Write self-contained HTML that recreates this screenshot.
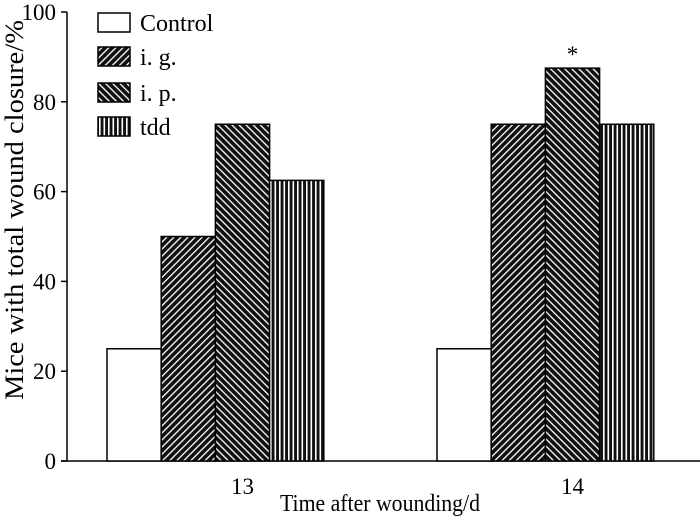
<!DOCTYPE html>
<html><head><meta charset="utf-8"><style>
html,body{margin:0;padding:0;background:#fff;}
svg{display:block;font-family:"Liberation Serif",serif;}
</style></head><body>
<svg id="chart" width="700" height="517" viewBox="0 0 700 517">
<defs>
<pattern id="pig" patternUnits="userSpaceOnUse" width="5" height="5" patternTransform="rotate(45)">
<rect width="5" height="5" fill="#111"/><rect x="0" y="0" width="1.3" height="5" fill="#fff"/></pattern>
<pattern id="pip" patternUnits="userSpaceOnUse" width="5" height="5" patternTransform="rotate(-45)">
<rect width="5" height="5" fill="#111"/><rect x="0" y="0" width="1.3" height="5" fill="#fff"/></pattern>
<pattern id="ptdd" patternUnits="userSpaceOnUse" width="4.5" height="5">
<rect width="4.5" height="5" fill="#111"/><rect x="0" y="0" width="1.6" height="5" fill="#fff"/></pattern>
</defs>
<g id="plot"></g>
</svg>
<script>
const categories = ["13", "14"];
const seriesNames = ["Control", "i. g.", "i. p.", "tdd"];
const control = [25, 25];
const ig = [50, 75];
const ip = [75, 87.5];
const tdd = [62.5, 75];
const yTicks = [0, 20, 40, 60, 80, 100];
const stars = ["", "*"];

const NS = "http://www.w3.org/2000/svg";
const g = document.getElementById("plot");
const y0 = 461, y100 = 12;
function yScale(v){ return y0 - (y0 - y100) * v / 100; }
const groupStart = [107, 437];
const barW = 54.2;
function bx(ci, si){ return groupStart[ci] + si * barW; }
function mk(tag, attrs, parent){ const e = document.createElementNS(NS, tag); for (const k in attrs) e.setAttribute(k, attrs[k]); (parent||g).appendChild(e); return e; }
const fills = ["#fff", "url(#pig)", "url(#pip)", "url(#ptdd)"];
const series = [control, ig, ip, tdd];
const keys = ["control", "ig", "ip", "tdd"];

let e = mk("line", {x1:67, y1:y100, x2:67, y2:y0, stroke:"#000", "stroke-width":1.5});


e = mk("line", {x1:61, y1:y0, x2:700, y2:y0, stroke:"#000", "stroke-width":1.5});


yTicks.forEach(t => {
  const y = yScale(t);
  let l = mk("line", {x1:61, y1:y, x2:67, y2:y, stroke:"#000", "stroke-width":1.5});
  
  
  let tx = mk("text", {x:56, y:y+8, "text-anchor":"end", "font-size":23});
  tx.textContent = t;
  
  
});
categories.forEach((c, ci) => {
  series.forEach((s, si) => {
    const y = yScale(s[ci]);
    const r = mk("rect", {x:bx(ci,si), y:y, width:barW, height:y0-y, fill:fills[si], stroke:"#000", "stroke-width":1.5});
    
    
  });
  const cx = groupStart[ci] + barW * 2.5;
  const t = mk("text", {x:cx, y:494, "text-anchor":"middle", "font-size":23});
  t.textContent = c;
  
  
  if (stars[ci]) {
    const st = mk("text", {x:bx(ci,2)+barW/2, y:yScale(ip[ci])-6, "text-anchor":"middle", "font-size":23});
    st.textContent = stars[ci];
    
    
  }
});
const legY = [13, 47, 83, 117];
seriesNames.forEach((n, i) => {
  const r = mk("rect", {x:98, y:legY[i], width:32, height:19, fill:fills[i], stroke:"#000", "stroke-width":1.5});
  
  
  const t = mk("text", {x:140, y:legY[i]+18, "font-size":24});
  t.textContent = n;
  
  
});
e = mk("text", {x:380, y:511, "text-anchor":"middle", "font-size":24, textLength:200, lengthAdjust:"spacingAndGlyphs"});
e.textContent = "Time after wounding/d";


e = mk("text", {x:0, y:0, "text-anchor":"middle", "font-size":26, textLength:380, lengthAdjust:"spacingAndGlyphs", transform:"translate(23,210) rotate(-90)"});
e.textContent = "Mice with total wound closure/%";


</script>
</body></html>
